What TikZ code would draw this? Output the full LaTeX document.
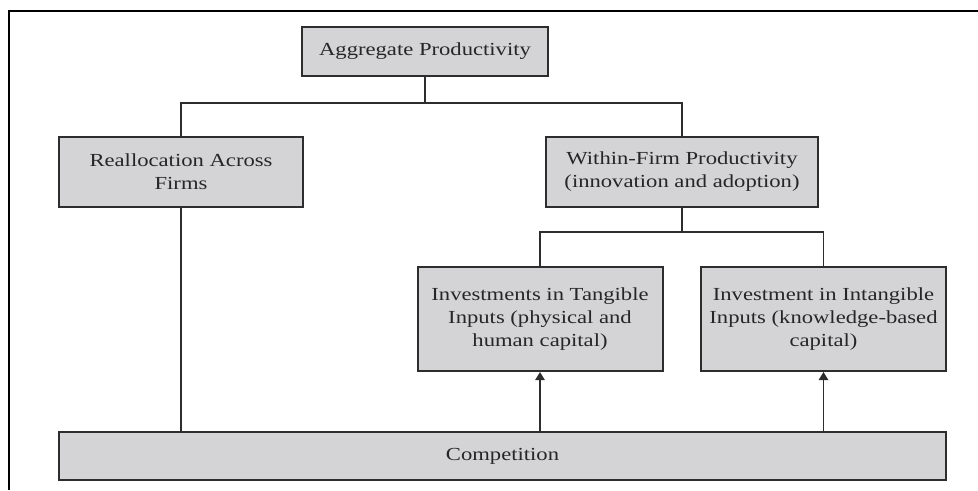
\documentclass[tikz,border=0pt]{standalone}
\usepackage{fontspec}
\setmainfont{Liberation Serif}[FakeStretch=1.23]
\usepackage{xcolor}
\usetikzlibrary{arrows.meta}
\definecolor{boxfill}{RGB}{212,212,214}
\definecolor{edge}{RGB}{45,45,45}

\begin{document}
\begin{tikzpicture}[
  x=0.75pt, y=-0.75pt,
  font=\fontsize{13.8}{17.25}\selectfont,
  box/.style={draw=edge, line width=1.5pt, fill=boxfill, align=center,
              inner sep=0pt, text=black!85},
  link/.style={draw=edge, line width=1.2pt},
  arr/.style={link, -{Triangle[width=7pt, length=6pt]}},
]
\useasboundingbox (0,0) rectangle (978,490);

% ---- frame (cut at right and bottom) ----
\draw[line width=1.2pt] (9,490) -- (9,11) -- (978,11);

% ---- top level ----
\node[box, minimum width=184.5pt, minimum height=36.75pt] (agg) at (425,51.5)
  {Aggregate Productivity};

% ---- second level ----
\node[box, minimum width=183pt, minimum height=52.5pt] (realloc) at (181,172)
  {Reallocation Across\\Firms};
\node[box, minimum width=204pt, minimum height=52.5pt] (within) at (682,172)
  {Within-Firm Productivity\\(innovation and adoption)};

% ---- investments ----
\node[box, minimum width=183.75pt, minimum height=78pt] (tang) at (540,319)
  {Investments in Tangible\\Inputs (physical and\\human capital)};
\node[box, minimum width=183.75pt, minimum height=78pt] (intang) at (823.5,319)
  {Investment in Intangible\\Inputs (knowledge-based\\capital)};

% ---- bottom ----
\node[box, minimum width=665.25pt, minimum height=36pt] (comp) at (502.5,456)
  {Competition};

% Branch points
\coordinate (topbar) at (425,103);
\coordinate (midbar) at (682,232);

\draw[link] (agg.south) -- (topbar);
\draw[link] (realloc.north) |- (topbar) -| (within.north);
\draw[link] (within.south) -- (midbar);
\draw[link] (tang.north) |- (midbar) -| (intang.north);
\draw[link] (realloc.south) -- (realloc.south |- comp.north);

% Competition feeds investments
\foreach \b in {tang, intang}
  \draw[arr] (\b.south |- comp.north) -- (\b.south);
\end{tikzpicture}
\end{document}
